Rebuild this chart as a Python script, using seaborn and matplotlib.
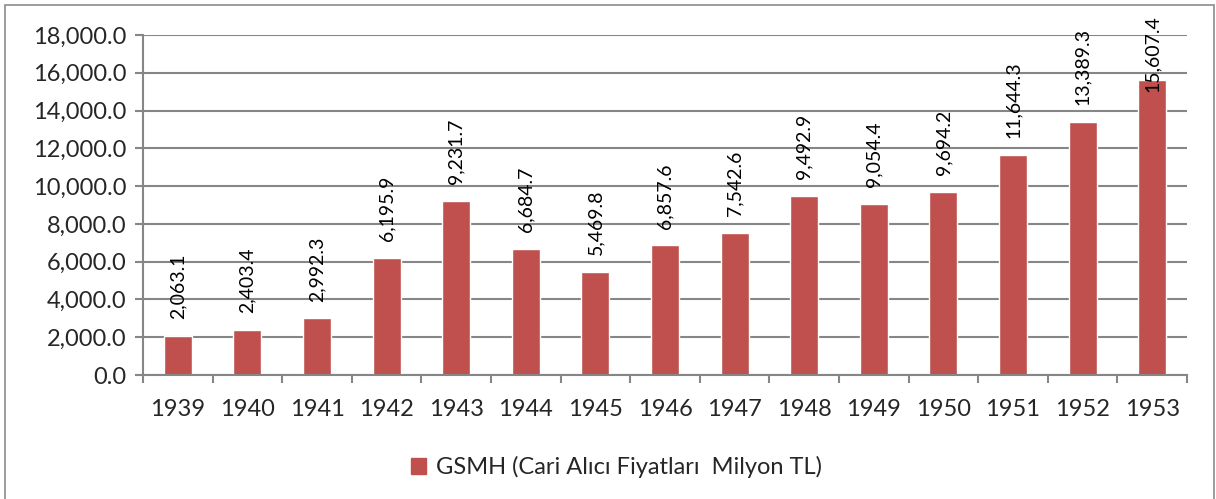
import matplotlib
matplotlib.use("Agg")
import matplotlib.pyplot as plt
import matplotlib.patches as mpatches
import numpy as np
import pandas as pd
import seaborn as sns

# data
years = ["1939", "1940", "1941", "1942", "1943", "1944", "1945", "1946",
         "1947", "1948", "1949", "1950", "1951", "1952", "1953"]
gsmh = [2063.1, 2403.4, 2992.3, 6195.9, 9231.7, 6684.7, 5469.8, 6857.6,
        7542.6, 9492.9, 9054.4, 9694.2, 11644.3, 13389.3, 15607.4]
series_name = "GSMH (Cari Alıcı Fiyatları  Milyon TL)"

bar_color = "#C0504D"
grid_color = "#868686"

sns.set_style("white")
plt.rcParams["font.family"] = ["Lato", "DejaVu Sans"]

df = pd.DataFrame({"year": years, "value": gsmh})

fig = plt.figure(figsize=(12.16, 4.99), dpi=100)
ax = fig.add_axes([143 / 1216, 1 - 375 / 499, (1187 - 143) / 1216, (375 - 35) / 499])

sns.barplot(data=df, x="year", y="value", color=bar_color, width=0.4,
            saturation=1, ax=ax, order=years)

ax.set_xlim(-0.5, len(years) - 0.5)
ax.set_ylim(0, 18000)
ax.set_yticks(np.arange(0, 18001, 2000))
ax.set_yticklabels([f"{v:,.1f}" for v in np.arange(0, 18001, 2000)])
ax.set_xlabel("")
ax.set_ylabel("")

ax.yaxis.grid(True, color=grid_color, lw=1.5)
ax.set_axisbelow(True)
for s in ["top", "right"]:
    ax.spines[s].set_visible(False)
for s in ["left", "bottom"]:
    ax.spines[s].set_color(grid_color)
    ax.spines[s].set_linewidth(1.5)

ax.tick_params(axis="y", which="major", direction="out", length=6, width=1.5,
               color=grid_color, labelsize=17, pad=6, left=True)
ax.tick_params(axis="x", which="major", length=0, labelsize=17, pad=17)
ax.set_xticks(np.arange(-0.5, len(years)), minor=True)
ax.tick_params(axis="x", which="minor", direction="out", length=6, width=1.5,
               color=grid_color, bottom=True)

# data labels, rotated like Excel
fig.canvas.draw()
renderer = fig.canvas.get_renderer()
top_limit = fig.bbox.height - 15
for i, v in enumerate(gsmh):
    t = ax.annotate(f"{v:,.1f}", xy=(i, v), xytext=(0, 12), textcoords="offset points",
                    rotation=90, ha="center", va="bottom", fontsize=14, color="black",
                    annotation_clip=False)
    bb = t.get_window_extent(renderer)
    if bb.y1 > top_limit:
        t.remove()
        ax.annotate(f"{v:,.1f}", xy=(i, 1 - 15 / 499),
                    xycoords=("data", "figure fraction"),
                    rotation=90, ha="center", va="top", fontsize=14, color="black",
                    annotation_clip=False)

handle = mpatches.Patch(color=bar_color, label=series_name)
fig.legend(handles=[handle], loc="center", bbox_to_anchor=(0.507, 0.064),
           frameon=False, fontsize=17, handlelength=0.65, handleheight=0.65,
           handletextpad=0.4)

# outer chart frame
fig.patches.append(mpatches.Rectangle((5 / 1216, -0.01), 1209 / 1216, 1 - 5 / 499 + 0.01,
                                      transform=fig.transFigure, fill=False,
                                      edgecolor="#8c8c8c", lw=1.2))

fig.savefig("out.png", dpi=100)
